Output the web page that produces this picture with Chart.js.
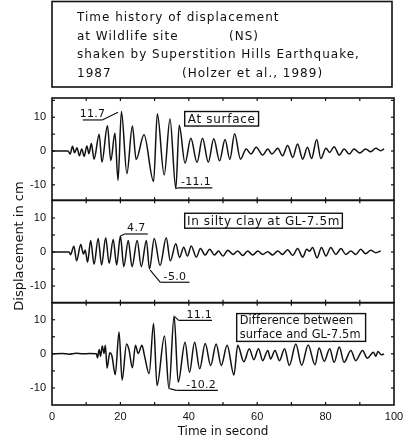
<!DOCTYPE html>
<html><head><meta charset="utf-8">
<script src="https://cdn.jsdelivr.net/npm/chart.js@4/dist/chart.umd.min.js"></script>
<style>html,body{margin:0;padding:0;background:#fff}#wrap{position:relative;width:410px;height:444px}</style>
</head><body><div id="wrap"><canvas id="c" width="410" height="444"></canvas></div>
<script>
// ---------- data ----------
const TITLE_LINES = ['Time history of displacement', 'at Wildlife site', '(NS)',
  'shaken by Superstition Hills Earthquake,', '1987', '(Holzer et al., 1989)'];
const X_TICKS = [0, 20, 40, 60, 80, 100];
const Y_TICKS = [-10, 0, 10];
const X_TITLE = 'Time in second';
const Y_TITLE = 'Displacement in cm';
const PANEL_LABELS = ['At surface', 'In silty clay at GL-7.5m', 'Difference between|surface and GL-7.5m'];

// At surface
const SURF_T = [0, 4.7, 5.3, 6.0, 6.6, 7.3, 8.0, 8.7, 9.4, 10.2, 10.8, 11.5, 12.3, 13.8, 14.6, 16.2, 17.2, 18.4, 19.3, 20.3,
  21.9, 23.5, 24.6, 26.9, 29.7, 30.8, 32.8, 34.5, 36.2, 37.2, 38.9, 40.6, 42.4, 44.0, 45.7, 47.3, 49.0, 50.6, 52.0, 53.4,
  55.1, 56.8, 58.2, 59.7, 61.6, 63.1, 64.3, 66.0, 67.4, 68.9, 70.4, 71.8, 73.3, 74.7, 75.9, 77.4, 78.6, 80.1, 81.2, 82.5,
  84.0, 85.4, 86.9, 88.3, 90.0, 91.7, 93.2, 94.7, 96.1, 97.1];
const SURF_V = [0, 0, -0.9, 1.4, -0.5, 1.0, -1.4, 0.6, -1.6, 1.5, -0.8, 2.2, -2.4, 5.0, -3.3, 7.5, -2.8, 5.3, -8.7, 11.7,
  -6.7, 7.4, -2.5, 4.8, -9.0, 11.0, -7.1, 9.5, -11.1, 7.6, -3.6, 3.8, -3.4, 3.8, -3.3, 3.6, -2.9, 3.4, -2.5, 5.1,
  -2.4, 0.6, -0.9, 1.1, -1.2, 0.6, -0.9, 0.8, -1.4, 1.6, -1.9, 2.1, -2.4, 1.1, -2.2, 3.4, -2.2, 0.8, -0.4, 1.3,
  -1.2, 0.6, -0.9, 0.6, -0.6, 0.6, -0.2, 0.8, 0.1, 0.6];

// In silty clay at GL-7.5m
const CLAY_T = [0, 5.0, 5.4, 6.4, 7.2, 8.4, 9.2, 9.7, 10.4, 11.3, 12.3, 13.5, 14.5, 15.7, 16.7, 17.9, 18.9, 20.0, 21.0, 22.3,
  23.4, 24.9, 26.1, 27.6, 28.5, 29.9, 31.6, 33.4, 34.6, 36.2, 37.3, 38.5, 39.6, 40.7, 42.2, 43.4, 44.8, 46.1, 47.5, 48.7,
  50.0, 51.4, 52.9, 54.3, 55.8, 57.2, 58.7, 60.2, 61.6, 63.1, 64.5, 66.0, 67.4, 68.9, 70.4, 71.8, 73.3, 74.5, 75.3, 76.2,
  77.5, 78.8, 80.1, 81.5, 83.0, 84.5, 85.9, 87.4, 88.8, 90.3, 91.7, 93.2, 94.7, 96.1];
const CLAY_V = [0, 0, -0.8, 1.7, -2.6, 2.2, -0.6, 0.6, -3.0, 3.4, -3.6, 4.0, -3.8, 4.2, -3.3, 3.7, -3.8, 4.7, -4.3, 3.4,
  -4.3, 3.4, -4.3, 3.4, -5.0, 4.0, -4.0, 4.2, -2.6, 2.4, -1.6, 1.4, -1.2, 1.8, -1.5, 1.0, -0.9, 0.8, -0.9, 0.3,
  -1.2, 0.5, -0.7, 0.3, -1.0, 0.3, -0.9, 0.3, -0.7, 0.1, -0.9, 0.3, -0.7, 0.7, -1.0, 1.0, -1.5, 0.8, 0.2, 1.3,
  -1.7, 1.3, -1.2, 1.3, -0.7, 1.0, -0.7, 0.3, -0.7, 0.8, -0.5, 0.5, -0.2, 0.3];

// Difference between surface and GL-7.5m
const DIFF_T = [0, 3, 5, 7, 9, 11, 13.0, 13.3, 13.8, 14.2, 14.7, 15.2, 15.6, 16.1, 16.9, 17.5, 18.5, 19.6, 20.5, 21.8,
  22.5, 23.5, 24.4, 25.2, 26.3, 27.1, 28.4, 29.7, 30.7, 32.9, 34.2, 35.7, 36.9, 38.9, 40.2, 41.7, 43.2, 44.8, 46.4, 48.0,
  49.5, 51.2, 53.2, 54.3, 56.1, 57.7, 59.0, 60.4, 61.6, 63.1, 63.9, 65.2, 66.5, 68.0, 69.4, 71.3, 73.0, 74.9, 76.9, 78.1,
  79.6, 81.2, 82.5, 84.0, 85.4, 87.4, 88.8, 90.8, 92.2, 94.0, 94.7, 95.3, 96.3, 97.1];
const DIFF_V = [0, 0.1, -0.1, 0.2, 0, 0.1, 0, -1.2, 1.3, -0.7, 2.3, 0.1, 2.5, -4.2, 0.3, -0.5, -6.1, 6.4, -7.7, 2.9,
  1.3, -4.1, 2.5, 0.1, 2.5, -0.8, -5.8, 8.9, -9.3, 5.2, -10.2, 11.1, -8.3, 3.4, -5.4, 3.4, -4.4, 3.0, -3.4, 2.9,
  -3.4, 2.5, -6.2, 2.5, -2.3, 1.5, -1.7, 1.5, -2.0, 1.0, -1.5, 1.0, -2.0, 1.5, -3.4, 2.9, -3.4, 2.6, -3.2, 1.7,
  -2.2, 1.5, -2.5, 2.0, -2.5, 1.0, -2.0, 1.0, -1.3, 0.5, -0.7, 0.7, -0.3, 0.0];

// peak value annotations (text is the peak value)
const PEAK_TEXT = ['11.7', '-11.1', '4.7', '-5.0', '11.1', '-10.2'];

// ---------- layout / style (not data) ----------
const PANELS = [
  {id: 'y1', min: -14.6, max: 15.7, t: SURF_T, v: SURF_V},
  {id: 'y2', min: -14.9, max: 15.2, t: CLAY_T, v: CLAY_V},
  {id: 'y3', min: -15, max: 15, t: DIFF_T, v: DIFF_V}
];
// leader tip [t,v], underline from t0 to t1 at level lv
const NOTE_POS = [
  {axis: 'y1', tip: [19.3, 11.5], t0: 9.0, t1: 14.7, lv: 9.2, dx: 0},
  {axis: 'y1', tip: [36.2, -11.1], t0: 36.7, t1: 46.9, lv: -10.9, dx: 1},
  {axis: 'y2', tip: [20.1, 4.8], t0: 21.3, t1: 28.0, lv: 5.3, dx: 0},
  {axis: 'y2', tip: [28.7, -5.3], t0: 31.7, t1: 40.2, lv: -8.9, dx: 0},
  {axis: 'y3', tip: [35.9, 10.9], t0: 37.0, t1: 46.8, lv: 9.8, dx: 4},
  {axis: 'y3', tip: [34.4, -10.2], t0: 36.4, t1: 48.5, lv: -10.7, dx: 4}
];
const BOX_POS = [
  {axis: 'y1', t0: 38.8, t1: 60.4, v0: 11.7, v1: 7.4, align: 'center', size: 12, sp: 0.7},
  {axis: 'y2', t0: 38.8, t1: 84.9, v0: 11.4, v1: 7.0, align: 'center', size: 12, sp: 0.6},
  {axis: 'y3', t0: 54.0, t1: 91.7, v0: 11.8, v1: 3.65, align: 'left', size: 11.4, sp: 0.1}
];
const INK = '#111';
const FONT = '"DejaVu Sans", sans-serif';

const datasets = PANELS.map(p => ({
  data: p.t.map((t, i) => ({x: t, y: p.v[i]})),
  yAxisID: p.id, xAxisID: 'x',
  borderColor: INK, borderWidth: 1.5, pointRadius: 0,
  cubicInterpolationMode: 'monotone', fill: false
}));

function yScale(p) {
  return {
    type: 'linear', position: 'left', stack: 'panels', stackWeight: 1,
    min: p.min, max: p.max,
    afterBuildTicks: s => { s.ticks = Y_TICKS.map(v => ({value: v})); },
    afterFit: s => { s.width = 52; },
    grid: {display: false, drawTicks: false}, border: {display: false},
    ticks: {color: INK, padding: 6, font: {family: '"Liberation Sans", sans-serif', size: 11}, callback: v => String(v)}
  };
}

const scales = {
  x: {
    type: 'linear', position: 'bottom', min: 0, max: 100,
    afterBuildTicks: s => { s.ticks = X_TICKS.map(v => ({value: v})); },
    afterFit: s => { s.height = 39; },
    grid: {display: false, drawTicks: false}, border: {display: false},
    ticks: {color: INK, padding: 5, maxRotation: 0, font: {family: '"Liberation Sans", sans-serif', size: 11}, callback: v => String(v)},
    title: {display: true, text: X_TITLE, color: INK, font: {family: FONT, size: 12}, padding: {top: 0, bottom: 5}}
  }
};
// later-defined stacked axes are placed higher
scales.y3 = yScale(PANELS[2]);
scales.y2 = yScale(PANELS[1]);
scales.y1 = yScale(PANELS[0]);

function seg(ctx, x0, y0, x1, y1) { ctx.beginPath(); ctx.moveTo(x0, y0); ctx.lineTo(x1, y1); ctx.stroke(); }

const decor = {
  id: 'decor',
  afterDraw(chart) {
    const {ctx, chartArea: ca, scales: sc} = chart;
    const xs = sc.x;
    ctx.save();
    ctx.strokeStyle = INK; ctx.fillStyle = INK;
    // title box
    ctx.lineWidth = 1.6;
    ctx.strokeRect(52, 1.5, 340, 85.5);
    ctx.font = '12px ' + FONT; ctx.letterSpacing = '1px';
    ctx.textAlign = 'left'; ctx.textBaseline = 'alphabetic';
    ctx.fillText(TITLE_LINES[0], 77, 20.5);
    ctx.fillText(TITLE_LINES[1], 77, 39.5);
    ctx.fillText(TITLE_LINES[2], 229, 39.5);
    ctx.fillText(TITLE_LINES[3], 77, 58.3);
    ctx.fillText(TITLE_LINES[4], 77, 76.5);
    ctx.fillText(TITLE_LINES[5], 182, 76.5);
    ctx.letterSpacing = '0px';
    // y title
    ctx.save();
    ctx.translate(20, 246); ctx.rotate(-Math.PI / 2);
    ctx.textAlign = 'center'; ctx.textBaseline = 'middle';
    ctx.font = '13px ' + FONT;
    ctx.fillText(Y_TITLE, 0, 0);
    ctx.restore();
    // panel frames and inward ticks
    PANELS.forEach(p => {
      const s = sc[p.id];
      ctx.lineWidth = 1.6;
      ctx.strokeRect(ca.left, s.top, ca.right - ca.left, s.bottom - s.top);
      ctx.lineWidth = 1.2;
      for (let v = -15; v <= 15; v += 5) {
        const y = s.getPixelForValue(v);
        if (y < s.top + 2 || y > s.bottom - 2) continue;
        seg(ctx, ca.left, y, ca.left + 3, y);
        seg(ctx, ca.right - 3, y, ca.right, y);
      }
      for (let t = 10; t < 100; t += 10) {
        const x = xs.getPixelForValue(t);
        seg(ctx, x, s.top, x, s.top + 3);
        seg(ctx, x, s.bottom - 3, x, s.bottom);
      }
    });
    // peak notes
    ctx.lineWidth = 1.2;
    ctx.font = '11px ' + FONT; ctx.letterSpacing = '0.3px';
    ctx.textAlign = 'center'; ctx.textBaseline = 'alphabetic';
    NOTE_POS.forEach((n, i) => {
      const ys = sc[n.axis];
      const x0 = xs.getPixelForValue(n.t0), x1 = xs.getPixelForValue(n.t1);
      const ly = ys.getPixelForValue(n.lv);
      const tx = xs.getPixelForValue(n.tip[0]), ty = ys.getPixelForValue(n.tip[1]);
      const near = Math.abs(tx - x0) < Math.abs(tx - x1) ? x0 : x1;
      seg(ctx, tx, ty, near, ly);
      seg(ctx, x0, ly, x1, ly);
      ctx.fillText(PEAK_TEXT[i], (x0 + x1) / 2 + n.dx, ly - 2.5);
    });
    // panel label boxes
    BOX_POS.forEach((b, i) => {
      const ys = sc[b.axis];
      const x0 = xs.getPixelForValue(b.t0), x1 = xs.getPixelForValue(b.t1);
      const y0 = ys.getPixelForValue(b.v0), y1 = ys.getPixelForValue(b.v1);
      ctx.lineWidth = 1.4;
      ctx.fillStyle = '#fff';
      ctx.fillRect(x0, y0, x1 - x0, y1 - y0);
      ctx.fillStyle = INK;
      ctx.strokeRect(x0, y0, x1 - x0, y1 - y0);
      ctx.font = b.size + 'px ' + FONT; ctx.letterSpacing = b.sp + 'px';
      const lines = PANEL_LABELS[i].split('|');
      const h = y1 - y0;
      lines.forEach((ln, k) => {
        const by = y0 + h * (k + 1) / lines.length - (lines.length > 1 ? 3.5 : 3);
        if (b.align === 'center') { ctx.textAlign = 'center'; ctx.fillText(ln, (x0 + x1) / 2, by); }
        else { ctx.textAlign = 'left'; ctx.fillText(ln, x0 + 3, by); }
      });
    });
    ctx.restore();
  }
};

new Chart(document.getElementById('c'), {
  type: 'line',
  data: {datasets},
  options: {
    responsive: false, animation: false, devicePixelRatio: 1,
    layout: {padding: {top: 98, right: 16, bottom: 0, left: 0}},
    plugins: {legend: {display: false}, tooltip: {enabled: false}},
    scales
  },
  plugins: [decor]
});
</script></body></html>
